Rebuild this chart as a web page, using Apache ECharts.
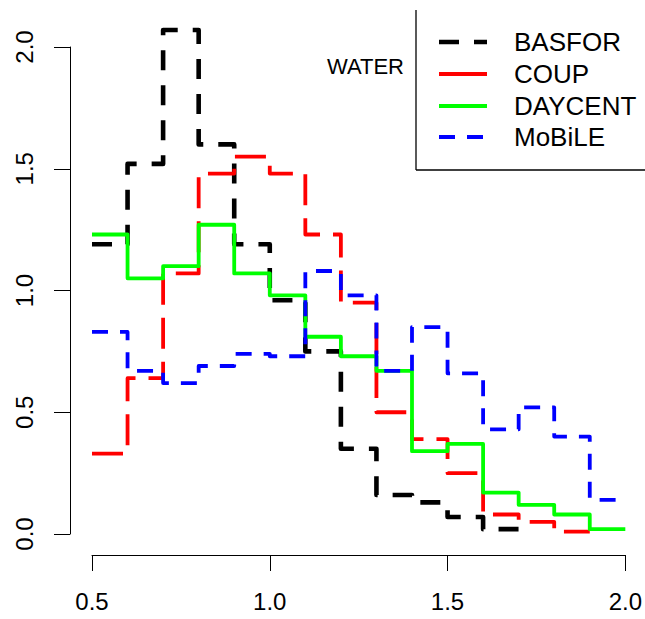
<!DOCTYPE html>
<html>
<head>
<meta charset="utf-8">
<title>WATER</title>
<script src="https://cdn.jsdelivr.net/npm/echarts@6/dist/echarts.min.js"></script>
<style>
  html, body { margin: 0; padding: 0; background: #ffffff; }
  #chart { width: 645px; height: 619px; }
</style>
</head>
<body>
<div id="chart"></div>
<script>
// Bin edges of the step histograms (left edge of every bin, plus the last right edge)
const binEdges = [0.5, 0.6, 0.7, 0.8, 0.9, 1.0, 1.1, 1.2, 1.3, 1.4, 1.5, 1.6, 1.7, 1.8, 1.9, 2.0];

// Density per bin for each model
const basfor  = [1.19, 1.52, 2.07, 1.60, 1.19, 0.96, 0.75, 0.35, 0.16, 0.13, 0.07, 0.02];
const coup    = [0.33, 0.64, 1.07, 1.48, 1.55, 1.48, 1.23, 0.95, 0.50, 0.39, 0.25, 0.08, 0.05, 0.01];
const daycent = [1.23, 1.05, 1.10, 1.27, 1.07, 0.98, 0.81, 0.73, 0.67, 0.34, 0.37, 0.17, 0.12, 0.08, 0.02];
const mobile  = [0.83, 0.67, 0.62, 0.69, 0.74, 0.73, 1.08, 0.98, 0.67, 0.85, 0.66, 0.43, 0.52, 0.40, 0.14];

const seriesNames = ['BASFOR', 'COUP', 'DAYCENT', 'MoBiLE'];
const seriesValues = [basfor, coup, daycent, mobile];

const xTicks = [0.5, 1.0, 1.5, 2.0];
const yTicks = [0.0, 0.5, 1.0, 1.5, 2.0];
const panelTitle = 'WATER';

// Line looks per model (legend dash may differ from the plotted dash)
const styles = [
  { color: '#000000', width: 4.6, dash: [20, 15], legendDash: [20, 15] },
  { color: '#ff0000', width: 3.8, dash: [31, 13], legendDash: null },
  { color: '#00ff00', width: 3.8, dash: 'solid',  legendDash: null },
  { color: '#0000ff', width: 3.8, dash: [16, 12], legendDash: [16, 12] }
];

// Turn per-bin values into step points: each value starts at its bin's left
// edge; the last value is repeated at the closing edge.
function stepPoints(values) {
  const pts = values.map((v, i) => [binEdges[i], v]);
  pts.push([binEdges[values.length], values[values.length - 1]]);
  return pts;
}

const FONT = '"Liberation Sans", Arial, Helvetica, sans-serif';

const series = seriesNames.map((name, i) => ({
  name: name,
  type: 'line',
  step: 'end',
  symbol: 'none',
  clip: false,
  silent: true,
  animation: false,
  data: stepPoints(seriesValues[i]),
  lineStyle: {
    color: styles[i].color,
    width: styles[i].width,
    type: styles[i].dash,
    cap: 'butt',
    join: 'round'
  },
  z: 2 + i
}));

// Legend box, sample lines and labels
const legendX0 = 439, legendX1 = 487, legendTextX = 514;
const legendRows = [42, 74, 106, 137];
const graphics = [
  { type: 'line', shape: { x1: 416, y1: 10, x2: 416, y2: 170 }, style: { stroke: '#000', lineWidth: 1.3 } },
  { type: 'line', shape: { x1: 416, y1: 170, x2: 645, y2: 170 }, style: { stroke: '#000', lineWidth: 1.3 } },
  { type: 'text', left: 327, top: 66 - 11, style: { text: panelTitle, font: '22px ' + FONT, fill: '#000' } }
];
seriesNames.forEach((name, i) => {
  const y = legendRows[i];
  graphics.push({
    type: 'line',
    shape: { x1: legendX0, y1: y, x2: legendX1, y2: y },
    style: {
      stroke: styles[i].color,
      lineWidth: styles[i].width,
      lineDash: styles[i].legendDash
    }
  });
  graphics.push({
    type: 'text',
    x: legendTextX,
    y: y,
    style: { text: name, font: '26px ' + FONT, fill: '#000', textVerticalAlign: 'middle', verticalAlign: 'middle' }
  });
});

const chart = echarts.init(document.getElementById('chart'), null, { renderer: 'svg' });
chart.setOption({
  animation: false,
  backgroundColor: '#ffffff',
  grid: { left: 92, right: 19, top: 47, bottom: 85, containLabel: false },
  xAxis: {
    type: 'value',
    min: xTicks[0],
    max: xTicks[xTicks.length - 1],
    interval: 0.5,
    offset: 21,
    axisLine: { show: true, onZero: false, lineStyle: { color: '#000', width: 1 } },
    axisTick: { show: true, length: 16, lineStyle: { color: '#000', width: 1 } },
    splitLine: { show: false },
    axisLabel: {
      color: '#000', fontSize: 24, fontFamily: FONT, margin: 34,
      formatter: v => v.toFixed(1)
    }
  },
  yAxis: {
    type: 'value',
    min: yTicks[0],
    max: yTicks[yTicks.length - 1],
    interval: 0.5,
    offset: 22,
    axisLine: { show: true, onZero: false, lineStyle: { color: '#000', width: 1 } },
    axisTick: { show: true, length: 16, lineStyle: { color: '#000', width: 1 } },
    splitLine: { show: false },
    axisLabel: {
      color: '#000', fontSize: 24, fontFamily: FONT, margin: 34, rotate: 90,
      formatter: v => v.toFixed(1)
    }
  },
  series: series,
  graphic: graphics
});
</script>
</body>
</html>
